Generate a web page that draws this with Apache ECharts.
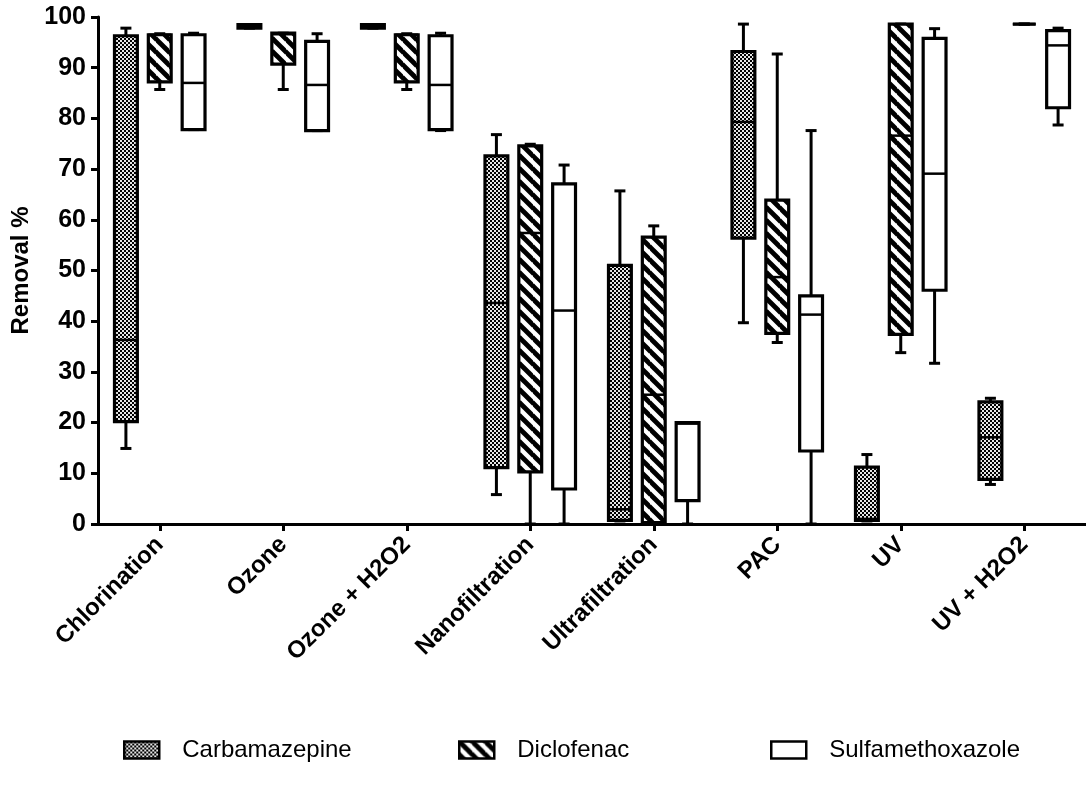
<!DOCTYPE html>
<html>
<head>
<meta charset="utf-8">
<script src="https://cdn.jsdelivr.net/npm/echarts@6/dist/echarts.min.js"></script>
<style>
html,body{margin:0;padding:0;background:#fff;}
#c{width:1086px;height:791px;}
</style>
</head>
<body>
<div id="c"></div>
<script>
// ---- data (low, Q1, median, Q3, high) ----
const categories = ['Chlorination','Ozone','Ozone + H2O2','Nanofiltration','Ultrafiltration','PAC','UV','UV + H2O2'];
const seriesNames = ['Carbamazepine','Diclofenac','Sulfamethoxazole'];
const yTicks = [0,10,20,30,40,50,60,70,80,90,100];

const carbamazepine = [
  [14.9, 20.2, 36.3, 96.3, 97.8],
  [97.8, 97.8, 98.2, 98.5, 98.5],
  [97.8, 97.8, 98.2, 98.5, 98.5],
  [5.8, 11.1, 43.6, 72.6, 76.8],
  [0.6, 0.7, 2.9, 51.0, 65.7],
  [39.7, 56.4, 79.3, 93.2, 98.6],
  [0.6, 0.7, 1.0, 11.2, 13.7],
  [7.8, 8.8, 17.1, 24.1, 24.8]
];
const diclofenac = [
  [85.7, 87.2, 96.5, 96.5, 96.7],
  [85.7, 90.7, 96.6, 96.8, 96.8],
  [85.7, 87.2, 96.5, 96.5, 96.7],
  [0, 10.3, 57.4, 74.6, 74.9],
  [0, 0.3, 25.5, 56.6, 58.8],
  [35.8, 37.6, 48.7, 63.9, 92.7],
  [33.8, 37.4, 76.6, 98.6, 98.6],
  [98.6, 98.6, 98.6, 98.6, 98.6]
];
const sulfamethoxazole = [
  [77.8, 77.8, 87.0, 96.5, 96.8],
  [77.6, 77.6, 86.6, 95.2, 96.7],
  [77.6, 77.8, 86.6, 96.3, 96.8],
  [0, 6.9, 42.1, 67.1, 70.8],
  [0, 4.6, 19.8, 20.0, 20.0],
  [0, 14.4, 41.3, 45.0, 77.6],
  [31.7, 46.1, 69.1, 95.8, 97.7],
  [78.7, 82.1, 94.4, 97.3, 97.8]
];

// ---- patterns ----
function checkerPattern(){
  const c = document.createElement('canvas'); c.width = 4; c.height = 4;
  const g = c.getContext('2d');
  g.fillStyle = '#000'; g.fillRect(0,0,4,4);
  g.fillStyle = '#e6e6e6'; g.fillRect(0,0,2,2); g.fillRect(2,2,2,2);
  return {image: c, repeat: 'repeat'};
}
function stripePattern(){
  const s = 13;
  const c = document.createElement('canvas'); c.width = s; c.height = s;
  const g = c.getContext('2d');
  g.fillStyle = '#fff'; g.fillRect(0,0,s,s);
  g.strokeStyle = '#000'; g.lineWidth = 4.8;
  for (let k=-1;k<=1;k++){ g.beginPath(); g.moveTo(-1, k*s-1); g.lineTo(s+1, k*s+s+1); g.stroke(); }
  return {image: c, repeat: 'repeat'};
}
const fills = [checkerPattern(), stripePattern(), '#fff'];
const offsets = [-0.274, 0, 0.274];

function makeRender(idx){
  return function(params, api){
    const cat = api.value(0);
    const bw = api.size([1,0])[0];
    const cx = api.coord([cat,0])[0] + offsets[idx]*bw;
    const w = 0.185*bw;
    const y = v => api.coord([cat, v])[1];
    const yL = y(api.value(1)), y1 = y(api.value(2)), yM = y(api.value(3)), y3 = y(api.value(4)), yH = y(api.value(5));
    const cap = 5.5;
    const ls = {stroke:'#000', lineWidth:3};
    return {type:'group', children:[
      {type:'line', shape:{x1:cx,y1:yL,x2:cx,y2:y1}, style:ls},
      {type:'line', shape:{x1:cx-cap,y1:yL,x2:cx+cap,y2:yL}, style:ls},
      {type:'line', shape:{x1:cx,y1:yH,x2:cx,y2:y3}, style:ls},
      {type:'line', shape:{x1:cx-cap,y1:yH,x2:cx+cap,y2:yH}, style:ls},
      {type:'rect', shape:{x:cx-w/2, y:y3, width:w, height:y1-y3}, style:{fill:fills[idx], stroke:'#000', lineWidth:3.2}},
      {type:'line', shape:{x1:cx-w/2,y1:yM,x2:cx+w/2,y2:yM}, style:{stroke:'#000', lineWidth:2.5}}
    ]};
  };
}

const allData = [carbamazepine, diclofenac, sulfamethoxazole];
const series = allData.map((arr, idx) => ({
  type: 'custom',
  name: seriesNames[idx],
  renderItem: makeRender(idx),
  encode: {x: 0, y: [1,2,3,4,5]},
  data: arr.map((d,i) => [i].concat(d)),
  itemStyle: {color: fills[idx], borderColor:'#000', borderWidth:2.5},
  silent: true
}));

const legendLefts = [118, 453, 765];
const legends = seriesNames.map((n, idx) => ({
  left: legendLefts[idx], top: 733, orient: 'horizontal',
  itemWidth: 35, itemHeight: 17,
  icon: 'rect',
  data: [{name: n, icon: 'rect', itemStyle: {color: fills[idx], borderColor:'#000', borderWidth:2.5}}],
  textStyle: {fontFamily:'Liberation Sans, Arial, sans-serif', fontSize: 24, color:'#000', padding:[0,0,0,18]},
  selectedMode: false
}));

const font = 'Liberation Sans, Arial, sans-serif';
const chart = echarts.init(document.getElementById('c'), null, {renderer:'canvas'});
chart.setOption({
  backgroundColor: '#fff',
  animation: false,
  grid: {left: 98, right: -5, top: 17, bottom: 267, containLabel: false},
  legend: legends,
  xAxis: {
    type: 'category', data: categories,
    axisLine: {show:true, lineStyle:{color:'#000', width:3}},
    axisTick: {show:true, alignWithLabel:true, length:7, lineStyle:{color:'#000', width:3}},
    axisLabel: {rotate:45, fontFamily:font, fontWeight:'bold', fontSize:24, color:'#000', margin:17, interval:0},
    splitLine: {show:false}
  },
  yAxis: {
    type: 'value', min: 0, max: 100, interval: 10,
    name: 'Removal %', nameLocation:'middle', nameRotate: 90, nameGap: 64,
    nameTextStyle: {fontFamily:font, fontWeight:'bold', fontSize:24, color:'#000'},
    axisLine: {show:true, lineStyle:{color:'#000', width:3}},
    axisTick: {show:true, length:7, lineStyle:{color:'#000', width:3}},
    axisLabel: {fontFamily:font, fontWeight:'bold', fontSize:25, color:'#000', margin:12,
      formatter: v => (yTicks.indexOf(v) >= 0 ? String(v) : '')},
    splitLine: {show:false}
  },
  series: series
});
</script>
</body>
</html>
